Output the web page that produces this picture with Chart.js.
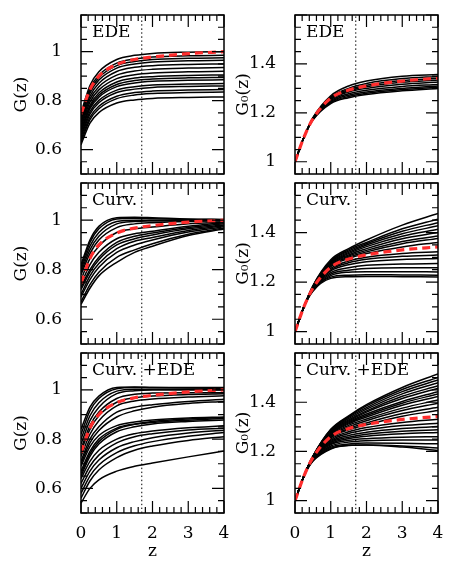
<!DOCTYPE html>
<html>
<head>
<meta charset="utf-8">
<script src="https://cdn.jsdelivr.net/npm/chart.js@4.4.1/dist/chart.umd.min.js"></script>
<style>
  html, body { margin: 0; padding: 0; background: #fff; }
  body { width: 471px; height: 585px; position: relative; overflow: hidden; }
  canvas { position: absolute; }
</style>
</head>
<body>
<canvas id="pA" width="235" height="174" style="left:0;top:5px"></canvas>
<canvas id="pB" width="243" height="174" style="left:228px;top:5px"></canvas>
<canvas id="pC" width="235" height="170" style="left:0;top:179px"></canvas>
<canvas id="pD" width="243" height="170" style="left:228px;top:179px"></canvas>
<canvas id="pE" width="235" height="236" style="left:0;top:349px"></canvas>
<canvas id="pF" width="243" height="236" style="left:228px;top:349px"></canvas>
<script>
// redshift grid the curves were read at
const zGrid = [0, 0.25, 0.5, 1, 1.5, 2, 3, 4];
const zTicks = [0, 1, 2, 3, 4];
const gTicks = [0.6, 0.8, 1];
const g0Ticks = [1, 1.2, 1.4];
const gRange = [0.5, 1.15];
const g0Range = [0.95, 1.6];
const zMark = 1.7;

// fiducial (red dashed)
const lcdmG = [0.745, 0.845, 0.9, 0.948, 0.968, 0.978, 0.992, 1.0];
const lcdmG0 = [1.0, 1.1, 1.175, 1.26, 1.293, 1.31, 1.33, 1.342];

// EDE
const edeG = [
  [0.75, 0.862, 0.918, 0.968, 0.985, 0.993, 0.998, 1.0],
  [0.74, 0.85, 0.904, 0.953, 0.97, 0.978, 0.983, 0.985],
  [0.73, 0.84, 0.894, 0.943, 0.96, 0.968, 0.973, 0.975],
  [0.72, 0.83, 0.884, 0.933, 0.95, 0.958, 0.963, 0.965],
  [0.71, 0.818, 0.871, 0.919, 0.936, 0.943, 0.948, 0.95],
  [0.70, 0.806, 0.857, 0.904, 0.921, 0.928, 0.933, 0.935],
  [0.69, 0.794, 0.844, 0.89, 0.906, 0.913, 0.918, 0.92],
  [0.68, 0.781, 0.831, 0.876, 0.892, 0.898, 0.903, 0.905],
  [0.675, 0.774, 0.822, 0.866, 0.882, 0.888, 0.893, 0.895],
  [0.67, 0.767, 0.814, 0.857, 0.872, 0.879, 0.883, 0.885],
  [0.66, 0.755, 0.801, 0.843, 0.857, 0.864, 0.868, 0.87],
  [0.65, 0.745, 0.791, 0.833, 0.847, 0.854, 0.858, 0.86],
  [0.64, 0.732, 0.777, 0.818, 0.833, 0.839, 0.843, 0.845],
  [0.63, 0.722, 0.767, 0.808, 0.823, 0.829, 0.833, 0.835],
  [0.62, 0.708, 0.751, 0.79, 0.803, 0.809, 0.813, 0.815]
];
const edeG0 = [
  [1.0, 1.10, 1.18, 1.27, 1.31, 1.33, 1.35, 1.357],
  [1.0, 1.10, 1.178, 1.265, 1.30, 1.32, 1.34, 1.349],
  [1.0, 1.10, 1.177, 1.26, 1.295, 1.313, 1.332, 1.341],
  [1.0, 1.10, 1.176, 1.258, 1.29, 1.307, 1.325, 1.334],
  [1.0, 1.10, 1.175, 1.255, 1.285, 1.30, 1.317, 1.326],
  [1.0, 1.10, 1.174, 1.25, 1.278, 1.292, 1.308, 1.316],
  [1.0, 1.10, 1.173, 1.245, 1.272, 1.285, 1.30, 1.31],
  [1.0, 1.10, 1.172, 1.242, 1.267, 1.28, 1.295, 1.305],
  [1.0, 1.10, 1.17, 1.238, 1.262, 1.275, 1.29, 1.30]
];

// Curv.
const curvG = [
  [0.82, 0.92, 0.975, 1.01, 1.012, 1.01, 1.005, 1.003],
  [0.81, 0.91, 0.965, 1.005, 1.008, 1.006, 1.003, 1.002],
  [0.80, 0.895, 0.95, 0.995, 1.0, 1.0, 1.0, 1.0],
  [0.79, 0.88, 0.935, 0.985, 0.995, 0.997, 0.998, 0.999],
  [0.78, 0.865, 0.92, 0.97, 0.985, 0.99, 0.995, 0.997],
  [0.76, 0.845, 0.895, 0.95, 0.965, 0.972, 0.985, 0.993],
  [0.74, 0.82, 0.87, 0.925, 0.945, 0.955, 0.975, 0.99],
  [0.73, 0.80, 0.85, 0.91, 0.935, 0.948, 0.97, 0.985],
  [0.72, 0.79, 0.84, 0.90, 0.925, 0.94, 0.965, 0.98],
  [0.70, 0.775, 0.825, 0.885, 0.915, 0.93, 0.958, 0.977],
  [0.69, 0.76, 0.81, 0.87, 0.90, 0.92, 0.952, 0.973],
  [0.67, 0.74, 0.79, 0.85, 0.88, 0.905, 0.943, 0.968],
  [0.66, 0.725, 0.775, 0.83, 0.87, 0.895, 0.938, 0.964]
];
const curvG0 = [
  [1.0, 1.10, 1.185, 1.29, 1.335, 1.37, 1.43, 1.477],
  [1.0, 1.10, 1.184, 1.285, 1.33, 1.36, 1.415, 1.454],
  [1.0, 1.10, 1.183, 1.283, 1.325, 1.355, 1.405, 1.44],
  [1.0, 1.10, 1.182, 1.28, 1.32, 1.35, 1.395, 1.427],
  [1.0, 1.10, 1.181, 1.277, 1.315, 1.343, 1.385, 1.413],
  [1.0, 1.10, 1.18, 1.273, 1.31, 1.335, 1.375, 1.40],
  [1.0, 1.10, 1.18, 1.27, 1.305, 1.328, 1.364, 1.386],
  [1.0, 1.10, 1.179, 1.266, 1.30, 1.322, 1.355, 1.376],
  [1.0, 1.10, 1.178, 1.262, 1.295, 1.315, 1.342, 1.36],
  [1.0, 1.10, 1.177, 1.255, 1.285, 1.30, 1.315, 1.322],
  [1.0, 1.10, 1.176, 1.25, 1.278, 1.292, 1.304, 1.309],
  [1.0, 1.10, 1.175, 1.245, 1.27, 1.282, 1.291, 1.295],
  [1.0, 1.10, 1.173, 1.238, 1.258, 1.268, 1.273, 1.275],
  [1.0, 1.10, 1.17, 1.232, 1.248, 1.255, 1.258, 1.258],
  [1.0, 1.10, 1.168, 1.226, 1.24, 1.242, 1.242, 1.241],
  [1.0, 1.10, 1.165, 1.22, 1.228, 1.23, 1.229, 1.228],
  [1.0, 1.10, 1.163, 1.215, 1.222, 1.223, 1.222, 1.221]
];

// Curv.+EDE
const bothG = [
  [0.84, 0.93, 0.975, 1.01, 1.012, 1.01, 1.008, 1.007],
  [0.82, 0.915, 0.965, 1.005, 1.01, 1.01, 1.01, 1.01],
  [0.80, 0.895, 0.948, 0.995, 1.003, 1.003, 1.003, 1.003],
  [0.78, 0.875, 0.93, 0.985, 0.997, 1.0, 1.0, 1.0],
  [0.76, 0.855, 0.91, 0.965, 0.982, 0.987, 0.989, 0.989],
  [0.75, 0.84, 0.895, 0.95, 0.968, 0.975, 0.981, 0.984],
  [0.73, 0.82, 0.875, 0.935, 0.955, 0.963, 0.971, 0.976],
  [0.71, 0.80, 0.85, 0.91, 0.93, 0.94, 0.953, 0.962],
  [0.70, 0.785, 0.835, 0.89, 0.915, 0.93, 0.945, 0.953],
  [0.69, 0.77, 0.815, 0.855, 0.87, 0.878, 0.886, 0.89],
  [0.67, 0.75, 0.80, 0.845, 0.862, 0.872, 0.882, 0.887],
  [0.66, 0.74, 0.79, 0.84, 0.86, 0.868, 0.877, 0.884],
  [0.65, 0.73, 0.78, 0.83, 0.85, 0.862, 0.872, 0.878],
  [0.64, 0.71, 0.755, 0.80, 0.822, 0.833, 0.846, 0.854],
  [0.62, 0.69, 0.735, 0.785, 0.81, 0.822, 0.837, 0.844],
  [0.60, 0.67, 0.715, 0.765, 0.79, 0.806, 0.825, 0.836],
  [0.58, 0.65, 0.695, 0.745, 0.773, 0.79, 0.812, 0.827],
  [0.56, 0.63, 0.675, 0.725, 0.755, 0.772, 0.795, 0.81],
  [0.54, 0.60, 0.635, 0.67, 0.69, 0.703, 0.728, 0.752]
];
const bothG0 = [
  [1.0, 1.10, 1.18, 1.29, 1.345, 1.39, 1.46, 1.515],
  [1.0, 1.10, 1.18, 1.288, 1.342, 1.385, 1.452, 1.501],
  [1.0, 1.10, 1.18, 1.285, 1.338, 1.378, 1.443, 1.49],
  [1.0, 1.10, 1.18, 1.283, 1.333, 1.372, 1.434, 1.479],
  [1.0, 1.10, 1.179, 1.28, 1.328, 1.365, 1.424, 1.467],
  [1.0, 1.10, 1.179, 1.278, 1.324, 1.36, 1.415, 1.457],
  [1.0, 1.10, 1.178, 1.275, 1.32, 1.352, 1.403, 1.443],
  [1.0, 1.10, 1.178, 1.272, 1.316, 1.346, 1.396, 1.434],
  [1.0, 1.10, 1.177, 1.27, 1.312, 1.34, 1.388, 1.423],
  [1.0, 1.10, 1.177, 1.266, 1.306, 1.332, 1.376, 1.409],
  [1.0, 1.10, 1.176, 1.263, 1.30, 1.325, 1.366, 1.396],
  [1.0, 1.10, 1.175, 1.258, 1.293, 1.316, 1.354, 1.38],
  [1.0, 1.10, 1.175, 1.255, 1.288, 1.308, 1.343, 1.366],
  [1.0, 1.10, 1.174, 1.25, 1.28, 1.297, 1.318, 1.331],
  [1.0, 1.10, 1.173, 1.245, 1.273, 1.288, 1.305, 1.315],
  [1.0, 1.10, 1.172, 1.24, 1.265, 1.278, 1.293, 1.301],
  [1.0, 1.10, 1.171, 1.236, 1.258, 1.27, 1.282, 1.288],
  [1.0, 1.10, 1.17, 1.232, 1.252, 1.262, 1.272, 1.277],
  [1.0, 1.10, 1.168, 1.228, 1.245, 1.252, 1.258, 1.26],
  [1.0, 1.10, 1.166, 1.222, 1.238, 1.244, 1.247, 1.247],
  [1.0, 1.10, 1.164, 1.217, 1.23, 1.234, 1.233, 1.231],
  [1.0, 1.10, 1.162, 1.212, 1.224, 1.226, 1.222, 1.214],
  [1.0, 1.10, 1.16, 1.21, 1.225, 1.226, 1.218, 1.204]
];

const FONT = 'DejaVu Serif';
const RED = 'rgb(255, 45, 45)';

// frame, inward ticks on all sides and the panel name
const framePlugin = {
  id: 'frame',
  afterDraw(chart, args, opts) {
    const { ctx, chartArea: a } = chart;
    const x = chart.scales.x, y = chart.scales.y;
    ctx.save();
    ctx.strokeStyle = '#000';
    ctx.lineWidth = 1.2;
    ctx.beginPath();
    for (let i = 0; i <= 20; i++) {
      const px = x.getPixelForValue(i * 0.2);
      const len = i % 5 === 0 ? 12 : 6;
      ctx.moveTo(px, a.bottom); ctx.lineTo(px, a.bottom - len);
      ctx.moveTo(px, a.top); ctx.lineTo(px, a.top + len);
    }
    const n0 = Math.ceil(y.min / 0.05 - 1e-6), n1 = Math.floor(y.max / 0.05 + 1e-6);
    for (let n = n0; n <= n1; n++) {
      const py = y.getPixelForValue(n * 0.05);
      const len = n % 4 === 0 ? 12 : 6;
      ctx.moveTo(a.left, py); ctx.lineTo(a.left + len, py);
      ctx.moveTo(a.right, py); ctx.lineTo(a.right - len, py);
    }
    ctx.stroke();
    ctx.lineWidth = 1.5;
    ctx.strokeRect(a.left, a.top, a.right - a.left, a.bottom - a.top);
    ctx.fillStyle = '#000';
    ctx.font = '17px "' + FONT + '"';
    ctx.textBaseline = 'middle';
    ctx.fillText(opts.label, a.left + 11, a.top + 18);
    ctx.restore();
  }
};

function toPoints(vals) {
  return vals.map((v, i) => ({ x: zGrid[i], y: v }));
}

function makePanel(id, p) {
  const datasets = [];
  datasets.push({ data: toPoints(p.ref), borderColor: RED, borderWidth: 3.2, borderDash: [8, 5], order: 0 });
  datasets.push({
    data: [{ x: zMark, y: p.range[0] }, { x: zMark, y: p.range[1] }],
    borderColor: '#000', borderWidth: 1, borderDash: [1.5, 2.5], tension: 0, order: 1
  });
  p.curves.forEach(c => {
    datasets.push({ data: toPoints(c), borderColor: '#000', borderWidth: 1.5, order: 2 });
  });

  new Chart(document.getElementById(id), {
    type: 'line',
    data: { datasets },
    options: {
      responsive: false,
      animation: false,
      events: [],
      layout: { padding: { top: p.padTop, bottom: p.padBottom, right: p.padRight, left: 0 } },
      elements: {
        point: { radius: 0 },
        line: { cubicInterpolationMode: 'monotone', fill: false }
      },
      plugins: {
        legend: { display: false },
        tooltip: { enabled: false },
        frame: { label: p.label }
      },
      scales: {
        x: {
          type: 'linear',
          min: 0, max: 4,
          display: p.bottomRow,
          afterBuildTicks: s => { s.ticks = zTicks.map(v => ({ value: v })); },
          afterFit: s => {
            s.height = p.bottomRow ? 72 : 0;
            s.paddingLeft = 0; s.paddingRight = 0;
          },
          grid: { display: false },
          border: { display: false },
          ticks: { color: '#000', padding: 2, maxRotation: 0, font: { family: FONT, size: 17 }, callback: v => String(v) },
          title: { display: true, text: 'z', color: '#000', padding: { bottom: 23 }, font: { family: FONT, size: 17 } }
        },
        y: {
          type: 'linear',
          min: p.range[0], max: p.range[1],
          afterBuildTicks: s => { s.ticks = p.ticks.map(v => ({ value: v })); },
          afterFit: s => {
            s.width = p.yWidth;
            s.paddingTop = 0; s.paddingBottom = 0;
          },
          grid: { display: false },
          border: { display: false },
          ticks: { color: '#000', padding: 11, font: { family: FONT, size: 17 }, callback: v => String(+v.toFixed(2)) },
          title: { display: true, text: p.title, color: '#000', padding: { top: p.titlePad }, font: { family: FONT, size: 17 } }
        }
      }
    },
    plugins: [framePlugin]
  });
}

const leftCol = { yWidth: 81, padRight: 11, titlePad: 11.5, ticks: gTicks, range: gRange, ref: lcdmG, title: 'G(z)' };
const rightCol = { yWidth: 67, padRight: 33, titlePad: 5, ticks: g0Ticks, range: g0Range, ref: lcdmG0, title: 'G\u2080(z)' };

makePanel('pA', Object.assign({}, leftCol, { curves: edeG, label: 'EDE', padTop: 10, padBottom: 5, bottomRow: false }));
makePanel('pB', Object.assign({}, rightCol, { curves: edeG0, label: 'EDE', padTop: 10, padBottom: 5, bottomRow: false }));
makePanel('pC', Object.assign({}, leftCol, { curves: curvG, label: 'Curv.', padTop: 4, padBottom: 5, bottomRow: false }));
makePanel('pD', Object.assign({}, rightCol, { curves: curvG0, label: 'Curv.', padTop: 4, padBottom: 5, bottomRow: false }));
makePanel('pE', Object.assign({}, leftCol, { curves: bothG, label: 'Curv. +EDE', padTop: 4, padBottom: 0, bottomRow: true }));
makePanel('pF', Object.assign({}, rightCol, { curves: bothG0, label: 'Curv. +EDE', padTop: 4, padBottom: 0, bottomRow: true }));
</script>
</body>
</html>
